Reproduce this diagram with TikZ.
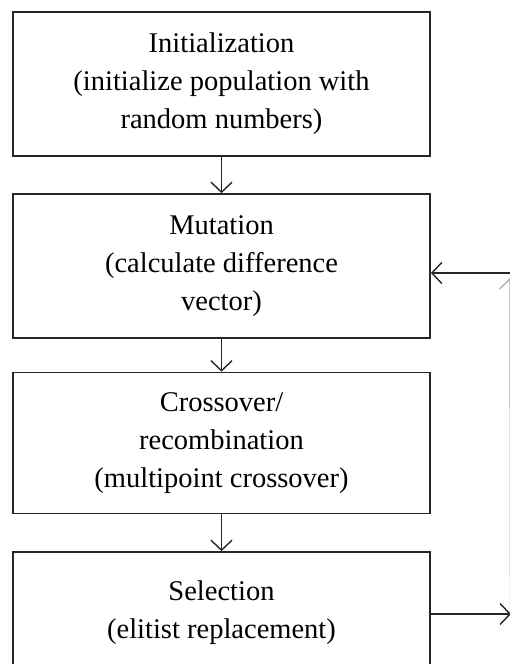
\documentclass[tikz,border=0pt]{standalone}
\usepackage{fontspec}
\setmainfont{Liberation Serif}
\usepackage{xcolor}
\colorlet{StepLine}{black!85}
\usetikzlibrary{arrows.meta}

\tikzset{
  stepbox/.style={draw=StepLine, line width=1.7pt, minimum width=417pt,
    align=center, inner sep=0pt, font=\fontsize{28.5}{38}\selectfont},
  flow/.style={draw=StepLine, line width=1.4pt,
    -{Straight Barb[length=10pt, width=21pt, line width=1.4pt]}}
}

\begin{document}
\begin{tikzpicture}[x=1pt, y=-1pt]

\fill[white] (0, 0) rectangle (510, 664);
\path[use as bounding box, clip] (0, 0) rectangle (510, 664);

\node[stepbox, minimum height=144pt] (init) at (221.5, 84)
  {Initialization\\(initialize population with\\random numbers)};
\node[stepbox, minimum height=144pt] (mutation) at (221.5, 266)
  {Mutation\\(calculate difference\\vector)};
\node[stepbox, minimum height=141pt] (crossover) at (221.5, 443)
  {Crossover/\\recombination\\(multipoint crossover)};
\node[stepbox, minimum height=122pt] (selection) at (221.5, 613)
  {Selection\\(elitist replacement)};

\draw[flow] (init) -- (mutation);
\draw[flow] (mutation) -- (crossover);
\draw[flow] (crossover) -- (selection);

% El lazo de vuelta queda cortado por el borde derecho de la figura.
\coordinate (selOut) at (511, 614);
\coordinate (loopTop) at (510, 278);
\coordinate (mutIn) at (511, 273);

\draw[flow] (selection.east |- selOut) -- (selOut);
\draw[flow, draw=black!30] (510.5, 614) -- (loopTop);
\draw[flow] (mutIn) -- (mutation.east |- mutIn);

\end{tikzpicture}
\end{document}
